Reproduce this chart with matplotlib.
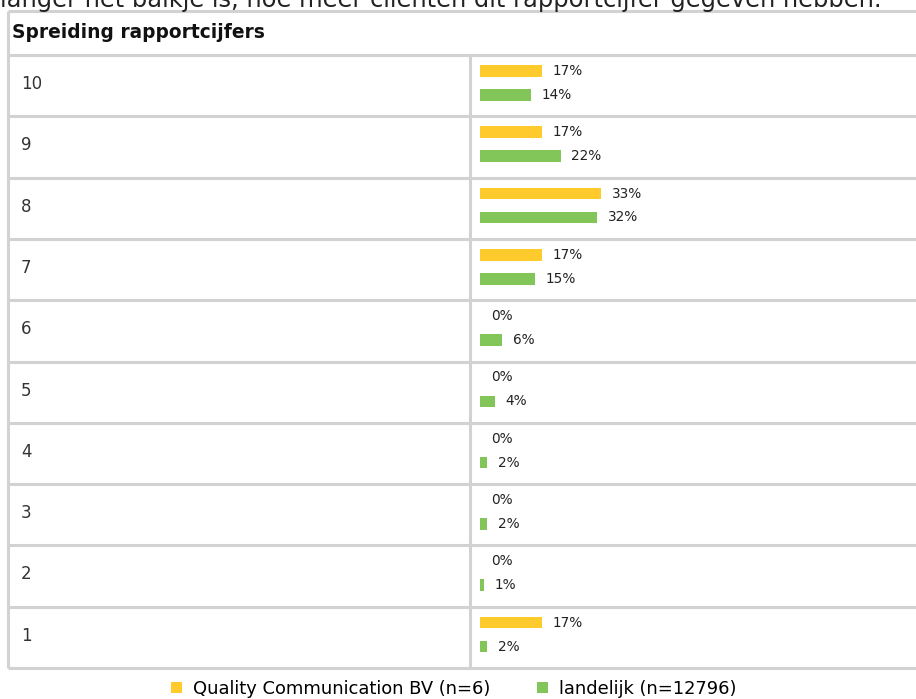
import matplotlib
matplotlib.use("Agg")
import matplotlib.pyplot as plt

scores = ["10", "9", "8", "7", "6", "5", "4", "3", "2", "1"]
quality = [17, 17, 33, 17, 0, 0, 0, 0, 0, 17]
landelijk = [14, 22, 32, 15, 6, 4, 2, 2, 1, 2]
series_names = ["Quality Communication BV (n=6)", "landelijk (n=12796)"]
title = "Spreiding rapportcijfers"
intro = "langer het balkje is, hoe meer cliënten dit rapportcijfer gegeven hebben."

yellow = "#ffca2c"
green = "#82c65a"
grid = "#d2d2d2"

W, H = 916, 699
fig = plt.figure(figsize=(W / 100, H / 100), dpi=100)

# background "table" in pixel coordinates
bg = fig.add_axes([0, 0, 1, 1])
bg.set_xlim(0, W)
bg.set_ylim(H, 0)
bg.axis("off")

top, head_bot, bot = 10.5, 55, 668
left, mid = 8, 470
row_h = (bot - head_bot) / len(scores)

bg.text(0, 7, intro, fontsize=17.4, color="#222222", va="baseline", ha="left")

bg.plot([left, W], [top, top], color=grid, lw=2.2, solid_capstyle="butt")
for i in range(len(scores) + 1):
    y = head_bot + i * row_h
    bg.plot([left, W], [y, y], color=grid, lw=2.2, solid_capstyle="butt")
bg.plot([left, left], [top, bot], color=grid, lw=2.2, solid_capstyle="butt")
bg.plot([mid, mid], [head_bot, bot], color=grid, lw=2.2, solid_capstyle="butt")

bg.text(12, 33, title, fontsize=13.4, fontweight="bold", color="#111111", va="center")
for i, s in enumerate(scores):
    bg.text(21, head_bot + i * row_h + 29, s, fontsize=12, color="#333333", va="center")

# bars
x0 = 480
px_per_pct = 3.667
ax = fig.add_axes([x0 / W, (H - bot) / H, (W - x0) / W, (bot - head_bot) / H])
ax.set_xlim(0, (W - x0) / px_per_pct)
ax.set_ylim(len(scores), 0)
ax.axis("off")

rows = list(range(len(scores)))
yq = [r + 0.26 for r in rows]
yl = [r + 0.65 for r in rows]
bq = ax.barh(yq, quality, height=0.19, color=yellow, label=series_names[0])
bl = ax.barh(yl, landelijk, height=0.19, color=green, label=series_names[1])

for vals, ys in [(quality, yq), (landelijk, yl)]:
    for v, y in zip(vals, ys):
        ax.annotate(f"{v}%", (v, y), xytext=(7.7, 0), textcoords="offset points",
                    fontsize=9.8, color="#222222", va="center", ha="left")

fig.legend(handles=[bq, bl], loc="center", bbox_to_anchor=(0.4956, 1 - 689 / H),
           ncol=2, frameon=False, fontsize=12.9, handlelength=0.62, handleheight=0.62,
           handletextpad=0.6, columnspacing=2.6, borderpad=0)

fig.savefig("out.png", dpi=100)
